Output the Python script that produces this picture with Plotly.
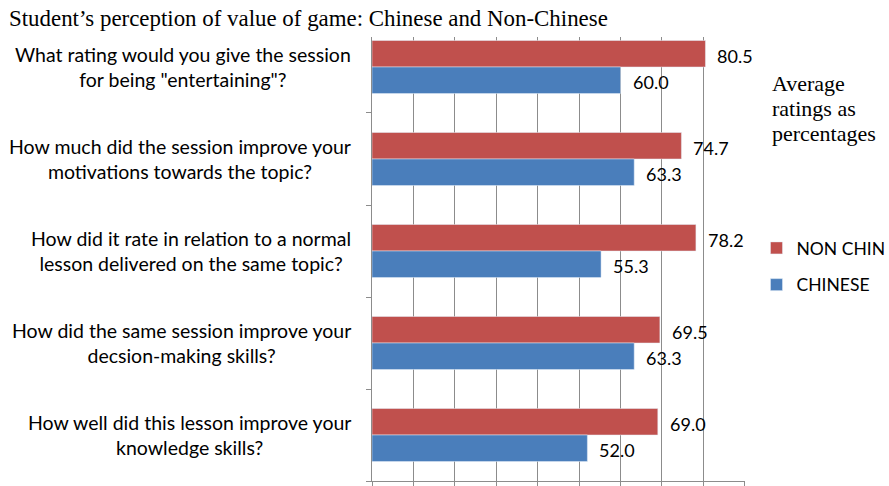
import plotly.graph_objects as go

# Survey questions, top to bottom
questions = [
    'What rating would you give the session<br>for being "entertaining"?',
    'How much did the session improve your<br>motivations towards the topic?',
    'How did it rate in relation to a normal<br>lesson delivered on the same topic?',
    'How did the same session improve your<br>decsion-making skills?',
    'How well did this lesson improve your<br>knowledge skills?',
]
non_chin = [80.5, 74.7, 78.2, 69.5, 69.0]
chinese = [60.0, 63.3, 55.3, 63.3, 52.0]

title_text = "Student’s perception of value of game: Chinese and Non-Chinese"
side_note = ["Average", "ratings as", "percentages"]

RED = "#C0504D"
BLUE = "#4A7EBB"
GRID = "#8C8C8C"
SANS = "Lato"
SERIF = "Liberation Serif"

# plot area in pixels
PL, PR, PT, PB = 372, 745.5, 37, 481
PW, PH = PR - PL, PB - PT

BARGAP = 0.424
half = (1 - BARGAP) / 4  # offset of each bar centre from its category centre


def px_x(x):
    return (x - PL) / PW


def px_y(y):
    return 1 - (y - PT) / PH


fig = go.Figure()
fig.add_trace(go.Bar(y=list(range(len(questions))), x=non_chin, orientation="h",
                     name="NON CHIN", marker_color=RED, legendgroup="a"))
fig.add_trace(go.Bar(y=list(range(len(questions))), x=chinese, orientation="h",
                     name="CHINESE", marker_color=BLUE, legendgroup="b"))

annotations = []
# value labels just right of each bar end
for i, (r, b) in enumerate(zip(non_chin, chinese)):
    for val, off in ((r, -half), (b, half)):
        annotations.append(dict(x=val, y=i + off, xref="x", yref="y",
                                text=f"{val:.1f}", showarrow=False,
                                xanchor="left", xshift=10, yshift=-2,
                                font=dict(family=SANS, size=18, color="#000")))
# question labels, centred line by line
for i, q in enumerate(questions):
    annotations.append(dict(x=0, y=i, xref="paper", yref="y", text=q,
                            showarrow=False, xanchor="right", xshift=-19,
                            align="center",
                            font=dict(family=SANS, size=19.5, color="#000")))
annotations.append(dict(x=px_x(7), y=px_y(19), xref="paper", yref="paper",
                        text=title_text, showarrow=False,
                        xanchor="left", yanchor="middle",
                        font=dict(family=SERIF, size=22.9, color="#000")))
for k, line in enumerate(side_note):
    annotations.append(dict(x=px_x(771), y=px_y(83 + 25 * k), xref="paper", yref="paper",
                            text=line, showarrow=False, xanchor="left", yanchor="middle",
                            font=dict(family=SERIF, size=22, color="#000")))

fig.update_layout(
    width=889, height=486,
    margin=dict(l=PL, r=889 - PR, t=PT, b=486 - PB, autoexpand=False),
    paper_bgcolor="white", plot_bgcolor="white",
    barmode="group", bargap=BARGAP, bargroupgap=0,
    showlegend=True,
    legend=dict(x=px_x(757), y=px_y(230), xanchor="left", yanchor="top",
                traceorder="grouped", tracegroupgap=11,
                font=dict(family=SANS, size=17.5, color="#000"),
                bgcolor="rgba(0,0,0,0)"),
    annotations=annotations,
    xaxis=dict(range=[0, 90.05], dtick=10, tick0=0, showgrid=True, gridcolor=GRID,
               gridwidth=1, showline=True, linecolor=GRID, linewidth=1,
               zeroline=False, ticks="outside", ticklen=6, tickcolor=GRID,
               showticklabels=False),
    yaxis=dict(range=[4.5, -0.326], tickmode="array",
               tickvals=[k + 0.5 for k in range(len(questions))], showgrid=False,
               showline=True, linecolor=GRID, linewidth=1, zeroline=False,
               ticks="outside", ticklen=5, tickcolor=GRID, showticklabels=False),
)

fig.write_html("out.html")
